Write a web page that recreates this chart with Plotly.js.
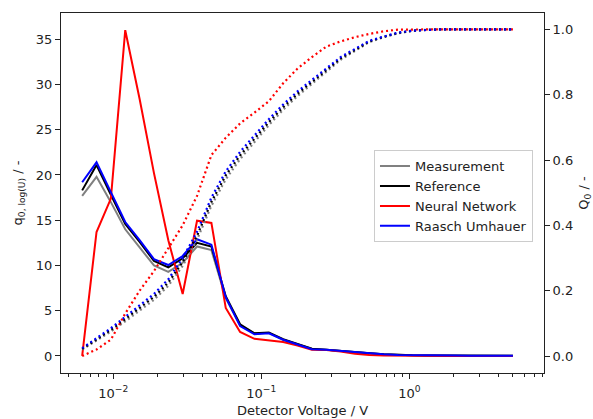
<!DOCTYPE html>
<html>
<head>
<meta charset="utf-8">
<script src="https://cdn.plot.ly/plotly-3.0.1.min.js"></script>
<style>
  html, body { margin: 0; padding: 0; background: #ffffff; }
  #chart { width: 593px; height: 419px; }
</style>
</head>
<body>
<div id="chart"></div>
<script>
// Detector voltage grid (V), log-spaced
const voltage = [0.006166, 0.007709, 0.009638, 0.01205, 0.01507, 0.01884, 0.02355, 0.02944,
  0.03681, 0.04603, 0.05754, 0.07194, 0.08995, 0.1125, 0.1406, 0.1758, 0.2198, 0.2748,
  0.3436, 0.4295, 0.5370, 0.6714, 0.8395, 1.050, 1.312, 1.641, 2.051, 2.564, 3.206, 4.009, 5.012];

// Density distributions q0,log(U)
const qMeasurement = [17.7, 19.8, 17.0, 14.0, 12.0, 10.0, 9.3, 10.3, 12.1, 11.7, 6.4, 3.4, 2.5, 2.55,
  1.8, 1.3, 0.8, 0.7, 0.55, 0.4, 0.3, 0.2, 0.12, 0.08, 0.06, 0.05, 0.04, 0.03, 0.02, 0.02, 0.02];
const qReference = [18.3, 21.1, 17.8, 14.6, 12.6, 10.5, 9.8, 10.8, 12.5, 12.1, 6.6, 3.5, 2.5, 2.6,
  1.85, 1.3, 0.8, 0.7, 0.55, 0.4, 0.3, 0.2, 0.12, 0.08, 0.06, 0.05, 0.04, 0.03, 0.02, 0.02, 0.02];
const qNeuralNetwork = [0.0, 13.7, 17.4, 36.0, 28.4, 20.2, 12.8, 6.85, 14.95, 14.7, 5.3, 2.65, 1.9, 1.73,
  1.55, 1.16, 0.68, 0.65, 0.5, 0.25, 0.1, 0.04, 0.02, 0.01, 0.01, 0, 0, 0, 0, 0, 0];
const qRaaschUmhauer = [19.2, 21.4, 18.1, 14.8, 12.8, 10.7, 10.05, 11.05, 12.9, 12.3, 6.5, 3.3, 2.4, 2.5,
  1.8, 1.25, 0.75, 0.68, 0.55, 0.38, 0.3, 0.2, 0.12, 0.08, 0.06, 0.05, 0.04, 0.03, 0.02, 0.02, 0.02];

// Cumulative distributions Q0
const QMeasurement = [0.020, 0.047, 0.075, 0.106, 0.139, 0.172, 0.215, 0.276, 0.356, 0.460, 0.541, 0.603,
  0.655, 0.707, 0.754, 0.796, 0.833, 0.870, 0.907, 0.934, 0.961, 0.976, 0.988, 0.995, 0.999, 1, 1, 1, 1, 1, 1];
const QReference = [0.022, 0.051, 0.080, 0.113, 0.147, 0.181, 0.225, 0.288, 0.368, 0.472, 0.553, 0.614,
  0.665, 0.716, 0.762, 0.803, 0.839, 0.875, 0.911, 0.937, 0.963, 0.977, 0.989, 0.996, 0.999, 1, 1, 1, 1, 1, 1];
const QNeuralNetwork = [0.0, 0.02, 0.05, 0.13, 0.20, 0.26, 0.33, 0.40, 0.49, 0.615, 0.668, 0.712,
  0.745, 0.78, 0.835, 0.88, 0.915, 0.947, 0.963, 0.976, 0.986, 0.994, 0.999, 1, 1, 1, 1, 1, 1, 1, 1];
const QRaaschUmhauer = [0.024, 0.055, 0.085, 0.12, 0.155, 0.19, 0.235, 0.30, 0.38, 0.485, 0.565, 0.625,
  0.675, 0.725, 0.77, 0.81, 0.845, 0.88, 0.915, 0.94, 0.965, 0.978, 0.99, 0.996, 0.999, 1, 1, 1, 1, 1, 1];

const seriesNames = ['Measurement', 'Reference', 'Neural Network', 'Raasch Umhauer'];
const seriesColors = ['#808080', '#000000', '#ff0000', '#0000ff'];
const densities = [qMeasurement, qReference, qNeuralNetwork, qRaaschUmhauer];
const cumulatives = [QMeasurement, QReference, QNeuralNetwork, QRaaschUmhauer];

// Decade tick labels on the voltage axis
const xTickVals = [0.01, 0.1, 1];
const xTickText = ['10<sup>\u22122</sup>', '10<sup>\u22121</sup>', '10<sup>0</sup>'];
// Minor ticks at 2..9 within each decade
const xMinorVals = [];
[0.001, 0.01, 0.1, 1].forEach(d => { for (let k = 2; k <= 9; k++) xMinorVals.push(d * k); });

const traces = [];
densities.forEach((q, i) => {
  traces.push({
    x: voltage, y: q, type: 'scatter', mode: 'lines', name: seriesNames[i],
    line: { color: seriesColors[i], width: 2 }, yaxis: 'y', hoverinfo: 'skip'
  });
});
cumulatives.forEach((Q, i) => {
  traces.push({
    x: voltage, y: Q, type: 'scatter', mode: 'lines', name: seriesNames[i] + ' Q0',
    showlegend: false,
    line: { color: seriesColors[i], width: 2.2, dash: '2px,3px' }, yaxis: 'y2', hoverinfo: 'skip'
  });
});

const tickFont = { family: 'DejaVu Sans, sans-serif', size: 13, color: '#222222' };
const axisCommon = {
  showgrid: false, zeroline: false, showline: true, linecolor: '#222222', linewidth: 1,
  ticks: 'outside', ticklen: 5, tickwidth: 1, tickcolor: '#222222', tickfont: tickFont
};

const layout = {
  width: 593, height: 419,
  margin: { l: 61, r: 49, t: 13, b: 46 },
  paper_bgcolor: '#ffffff', plot_bgcolor: '#ffffff',
  font: { family: 'DejaVu Sans, sans-serif', size: 13, color: '#222222' },
  showlegend: true,
  xaxis: Object.assign({}, axisCommon, {
    type: 'log', range: [-2.353, 0.910], tickmode: 'array', tickvals: xTickVals, ticktext: xTickText,
    mirror: true, ticklabelstandoff: 3,
    minor: { ticks: 'outside', ticklen: 3, tickmode: 'array', tickvals: xMinorVals, tickcolor: '#222222', showgrid: false },
    title: { text: 'Detector Voltage / V', font: { size: 13, color: '#222222' }, standoff: 6 }
  }),
  yaxis: Object.assign({}, axisCommon, {
    range: [-1.88, 37.9], tick0: 0, dtick: 5,
    title: { text: 'q<sub>0, log(U)</sub> / -', font: { size: 13, color: '#222222' }, standoff: 10 }
  }),
  yaxis2: Object.assign({}, axisCommon, {
    overlaying: 'y', side: 'right', range: [-0.052, 1.05], tick0: 0, dtick: 0.2, tickformat: '.1f',
    title: { text: 'Q<sub>0</sub> / -', font: { size: 13, color: '#222222' }, standoff: 13 }
  }),
  legend: {
    x: 0.648, y: 0.619, xanchor: 'left', yanchor: 'top',
    bgcolor: 'rgba(255,255,255,0.8)', bordercolor: '#cccccc', borderwidth: 1,
    font: { size: 13, color: '#222222' }, tracegroupgap: 0
  }
};

Plotly.newPlot('chart', traces, layout, { displayModeBar: false, staticPlot: true });
</script>
</body>
</html>
